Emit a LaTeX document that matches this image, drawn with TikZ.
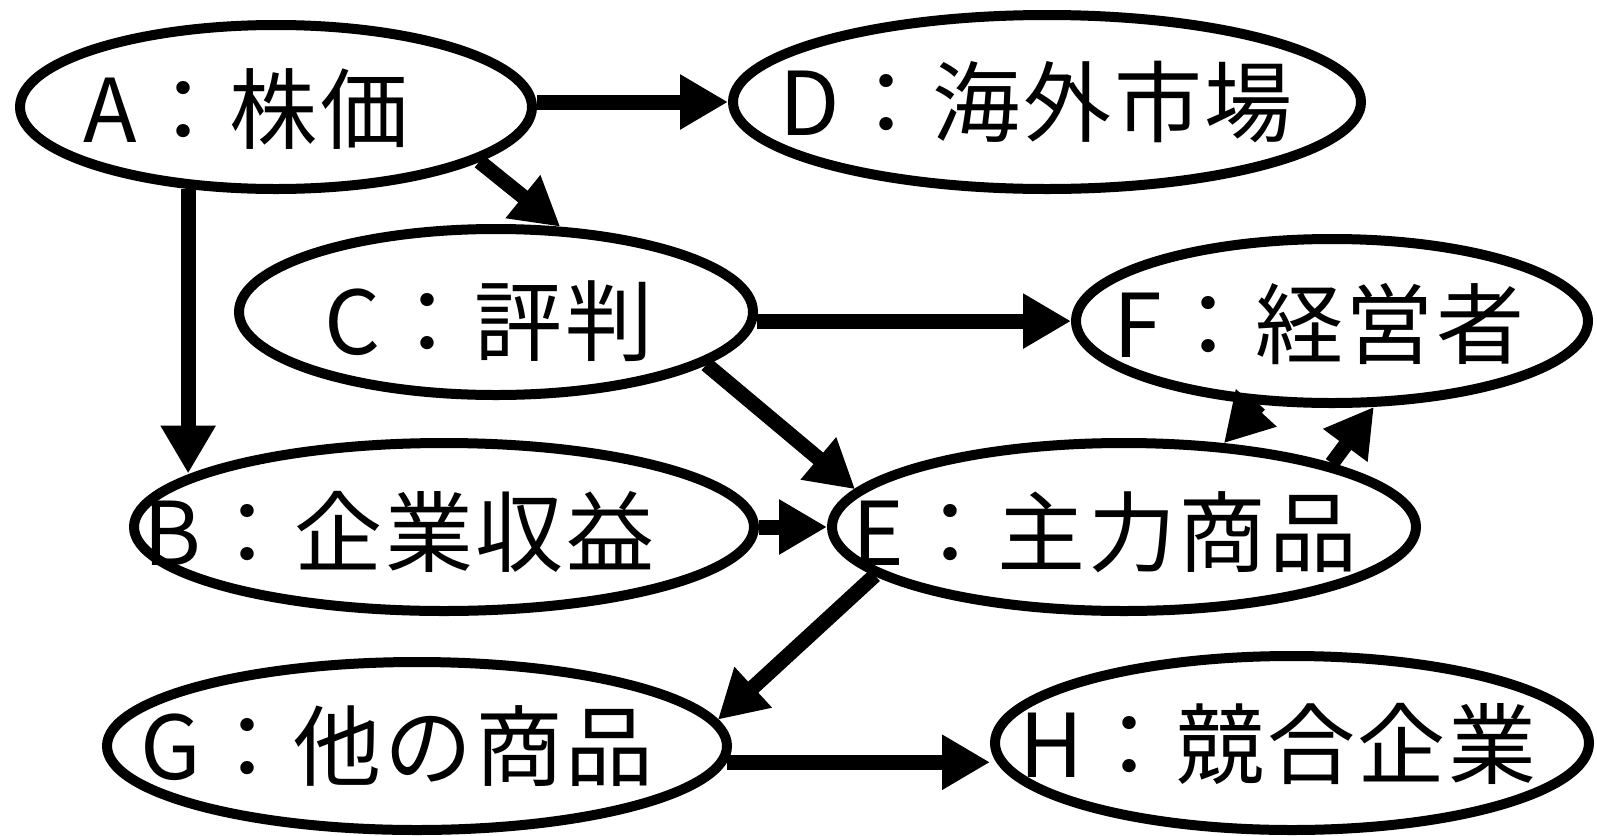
\documentclass[tikz,border=0pt]{standalone}
\usepackage{fontspec}
\setmainfont[LetterSpace=3]{Noto Sans CJK JP}
\usetikzlibrary{arrows.meta,shapes.geometric}
\tikzset{
  ell/.style={ellipse,draw=black,line width=5pt,inner sep=0pt},
  lab/.style={font=\fontsize{44pt}{50pt}\selectfont,inner sep=0pt,anchor=center},
  arr/.style={line width=7.5pt,-{Triangle[width=26pt,length=24pt]}}
}
\begin{document}
\begin{tikzpicture}[x=0.5pt,y=-0.5pt]
\useasboundingbox (0,0) rectangle (1597,836);
% ellipses
\node[ell,minimum width=256pt,minimum height=82pt] (A) at (276,107) {};
\node[ell,minimum width=314pt,minimum height=87pt] (D) at (1047,102) {};
\node[ell,minimum width=257pt,minimum height=83pt] (C) at (496,312) {};
\node[ell,minimum width=256pt,minimum height=82pt] (F) at (1332,321) {};
\node[ell,minimum width=310pt,minimum height=84pt] (B) at (444,527) {};
\node[ell,minimum width=292pt,minimum height=84pt] (E) at (1124,527) {};
\node[ell,minimum width=310pt,minimum height=84pt] (G) at (417,746) {};
\node[ell,minimum width=297pt,minimum height=87pt] (H) at (1292,743) {};
% labels
\node[lab] (tA) at (246,109) {A：株価};
\node[lab] (tD) at (1036,102) {D：海外市場};
\node[lab] (tC) at (489,321) {C：評判};
\node[lab] (tF) at (1319,324) {F：経営者};
\node[lab] (tB) at (399,532) {B：企業収益};
\node[lab] (tE) at (1105,532) {E：主力商品};
\node[lab] (tG) at (397,746) {G：他の商品};
\node[lab] (tH) at (1278,744) {H：競合企業};
% connectors
\draw[arr] (D.west -| A.east) -- (D.west);
\draw[arr] (A.-15) -- (C.53);
\draw[arr] (A.-137) -- (A.-137 |- B.168);
\draw[arr] (C.-2) -- (C.-2 -| F.west);
\draw[arr] (C.-14) -- (E.172);
\draw[arr] (B.east) -- (E.west);
\draw[arr] (F.-131) -- (E.40);
\draw[arr] (E.17) -- (F.-64);
\draw[arr] (E.191) -- (G.5);
\draw[arr] (G.-3) -- (G.-3 -| H.west);
\end{tikzpicture}
\end{document}
